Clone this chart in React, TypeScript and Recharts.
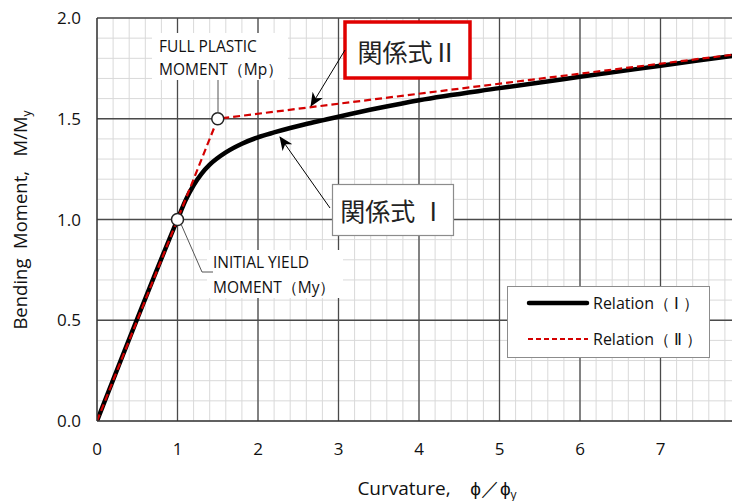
import { LineChart, Line, XAxis, YAxis, CartesianGrid, ReferenceLine, ReferenceDot } from 'recharts'

// Relation (I): moment-curvature curve
const relationI = [
  { x: 0, y: 0 },
  { x: 1, y: 1 },
  { x: 1.1, y: 1.095 },
  { x: 1.2, y: 1.17 },
  { x: 1.3, y: 1.228 },
  { x: 1.4, y: 1.272 },
  { x: 1.6, y: 1.333 },
  { x: 1.8, y: 1.376 },
  { x: 2, y: 1.408 },
  { x: 2.2, y: 1.432 },
  { x: 2.4, y: 1.454 },
  { x: 2.6, y: 1.474 },
  { x: 2.8, y: 1.492 },
  { x: 3, y: 1.51 },
  { x: 3.5, y: 1.553 },
  { x: 4, y: 1.592 },
  { x: 5, y: 1.652 },
  { x: 6, y: 1.708 },
  { x: 7, y: 1.763 },
  { x: 8, y: 1.818 },
]

// Relation (II): bilinear
const relationII = [
  { x: 0, y: 0 },
  { x: 1.5, y: 1.5 },
  { x: 8, y: 1.823 },
]

const keyPoints = [
  { x: 1, y: 1 },
  { x: 1.5, y: 1.5 },
]

const xMinor = Array.from({ length: 41 }, (_, i) => +(i * 0.2).toFixed(1))
const yMinor = Array.from({ length: 21 }, (_, i) => +(i * 0.1).toFixed(1))
const xMajor = [1, 2, 3, 4, 5, 6, 7, 8]
const yMajor = [0.5, 1, 1.5, 2]

const FONT = '"Open Sans", sans-serif'
const CJK = '"Noto Sans CJK JP", sans-serif'
const RED = '#d40000'
const MAJOR = '#4a4a4a'

export default function App() {
  return (
    <div style={{ position: 'relative', width: 732, height: 493, overflow: 'hidden', background: '#fff' }}>
      <LineChart width={760} height={493} margin={{ top: 10, right: 27, bottom: 20, left: 0 }}>
        <CartesianGrid stroke="#d9d9d9" strokeWidth={1} />
        <XAxis
          type="number"
          dataKey="x"
          domain={[0, 8]}
          ticks={xMinor}
          interval={0}
          allowDataOverflow
          tickFormatter={(v: number) => (Number.isInteger(v) ? String(v) : '')}
          tickLine={false}
          tickSize={0}
          tickMargin={22}
          axisLine={{ stroke: '#333', strokeWidth: 1.5 }}
          tick={{ fill: '#111', fontSize: 17, fontFamily: FONT }}
          height={60}
        />
        <YAxis
          type="number"
          domain={[0, 2]}
          ticks={yMinor}
          interval={0}
          allowDataOverflow
          tickFormatter={(v: number) => (Math.abs(v * 2 - Math.round(v * 2)) < 1e-9 ? v.toFixed(1) : '')}
          tickLine={false}
          tickSize={0}
          tickMargin={16}
          axisLine={{ stroke: '#333', strokeWidth: 1.5 }}
          tick={{ fill: '#111', fontSize: 17, fontFamily: FONT }}
          width={89}
        />
        {xMajor.map((v) => (
          <ReferenceLine key={'vx' + v} x={v} stroke={MAJOR} strokeWidth={1.3} />
        ))}
        {yMajor.map((v) => (
          <ReferenceLine key={'hy' + v} y={v} stroke={MAJOR} strokeWidth={1.3} />
        ))}
        <Line
          data={relationI}
          dataKey="y"
          type="monotone"
          stroke="#000"
          strokeWidth={4.5}
          dot={false}
          isAnimationActive={false}
          name="Relation（Ⅰ）"
        />
        <Line
          data={relationII}
          dataKey="y"
          type="linear"
          stroke={RED}
          strokeWidth={2.2}
          strokeDasharray="7 4"
          dot={false}
          isAnimationActive={false}
          name="Relation（Ⅱ）"
        />
        {keyPoints.map((p) => (
          <ReferenceDot key={'kp' + p.x} x={p.x} y={p.y} r={6} fill="#fff" stroke="#222" strokeWidth={1.5} />
        ))}
      </LineChart>

      <svg
        width={732}
        height={493}
        style={{ position: 'absolute', left: 0, top: 0, pointerEvents: 'none' }}
      >
        <defs>
          <marker id="arrowHead" markerWidth={14} markerHeight={12} refX={13} refY={6} orient="auto" markerUnits="userSpaceOnUse">
            <path d="M0,0 L14,6 L0,12 L4,6 Z" fill="#000" />
          </marker>
        </defs>

        {/* legend */}
        <g transform="translate(499 278)">
          <rect x={0.5} y={0.5} width={202} height={71} fill="#fff" stroke="#8c8c8c" strokeWidth={1} />
          <line x1={22} y1={17} x2={80} y2={17} stroke="#000" strokeWidth={4.5} strokeLinecap="round" />
          <text x={86} y={17} dominantBaseline="central" fontFamily={FONT} fontSize={16} fill="#111">
            Relation（ Ⅰ ）
          </text>
          <line x1={21} y1={53} x2={81} y2={53} stroke={RED} strokeWidth={1.8} strokeDasharray="5 3" />
          <text x={86} y={53} dominantBaseline="central" fontFamily={FONT} fontSize={16} fill="#111">
            Relation（ Ⅱ ）
          </text>
        </g>

        {/* FULL PLASTIC MOMENT */}
        <rect x={144} y={25} width={136} height={47} fill="#fff" />
        <line x1={210} y1={72} x2={210} y2={105} stroke="#555" strokeWidth={1} />
        <text fontFamily={FONT} fontSize={15.5} fill="#111">
          <tspan x={151} y={44}>FULL PLASTIC</tspan>
          <tspan x={151} y={67}>MOMENT（Mp）</tspan>
        </text>

        {/* INITIAL YIELD MOMENT */}
        <rect x={199} y={242} width={136} height={48} fill="#fff" />
        <polyline points="173,216 194,264 205,264" fill="none" stroke="#555" strokeWidth={1} />
        <text fontFamily={FONT} fontSize={15.5} fill="#111">
          <tspan x={205} y={260}>INITIAL YIELD</tspan>
          <tspan x={205} y={285}>MOMENT（My）</tspan>
        </text>

        {/* 関係式 II */}
        <rect x={337} y={14} width={125} height={56} fill="#fff" stroke="#e00000" strokeWidth={3.5} />
        <text x={399.5} y={43} textAnchor="middle" dominantBaseline="central" fontFamily={CJK} fontSize={25} fill="#222">
          関係式Ⅱ
        </text>
        <line x1={337} y1={42} x2={303} y2={98} stroke="#000" strokeWidth={1} markerEnd="url(#arrowHead)" />

        {/* 関係式 I */}
        <rect x={324.5} y={176.5} width={121} height={51} fill="#fff" stroke="#8c8c8c" strokeWidth={1.2} />
        <text x={385} y={202} textAnchor="middle" dominantBaseline="central" fontFamily={CJK} fontSize={25} fill="#222">
          関係式 Ⅰ
        </text>
        <line x1={322} y1={200} x2={272} y2={129} stroke="#000" strokeWidth={1} markerEnd="url(#arrowHead)" />

        {/* axis titles */}
        <text x={19} y={212} transform="rotate(-90 19 212)" textAnchor="middle" fontFamily={FONT} fontSize={18.5} fill="#111">
          {'Bending\u00a0\u00a0Moment,\u00a0\u00a0\u00a0M/M'}
          <tspan fontSize={12} dy={4}>y</tspan>
        </text>
        <text x={429} y={487} textAnchor="middle" fontFamily={FONT} fontSize={19} fill="#111">
          {'Curvature,\u00a0\u00a0\u00a0\u00a0ϕ／ϕ'}
          <tspan fontSize={12} dy={4}>y</tspan>
        </text>
      </svg>
    </div>
  )
}
